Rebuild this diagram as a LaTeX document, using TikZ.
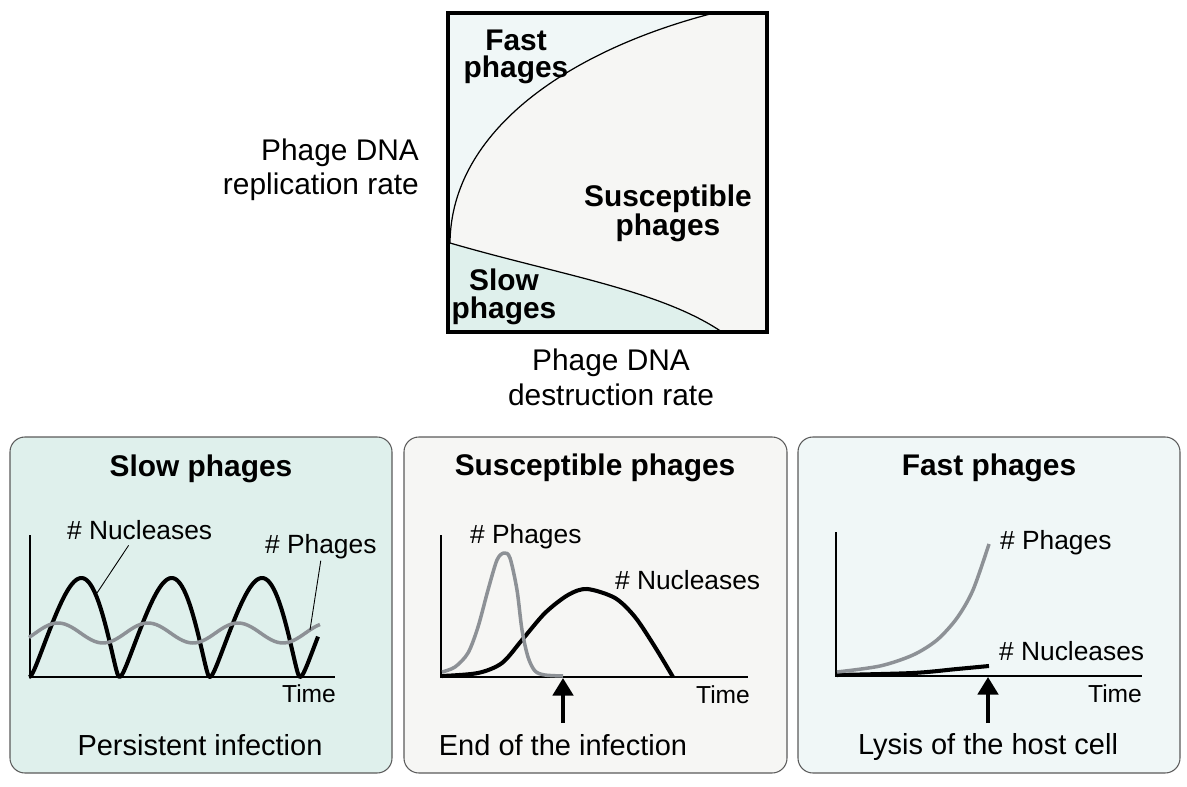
\documentclass[tikz,border=0pt]{standalone}
\usepackage{fontspec}
\setmainfont{Liberation Sans}
\usetikzlibrary{arrows.meta, positioning}
\definecolor{slowfill}{HTML}{DFF0EC}
\definecolor{suscfill}{HTML}{F6F6F4}
\definecolor{fastfill}{HTML}{F0F7F7}
\definecolor{phagegray}{HTML}{8D9196}
\definecolor{panelline}{HTML}{5A5A5A}
\tikzset{
  panelbox/.style={draw=panelline, line width=0.6pt, rounded corners=8.5pt},
  regionedge/.style={line width=0.7pt, black},
  axisline/.style={line width=0.8pt, black},
  nucline/.style={line width=2.3pt, black, line join=round},
  phageline/.style={line width=2pt, phagegray, line join=round},
  leaderline/.style={line width=0.5pt, black},
  eventarrow/.style={-{Triangle[length=10pt, width=11.5pt]}, line width=2.3pt, black},
  paneltitle/.style={font=\fontsize{17}{20}\selectfont\bfseries, inner sep=1pt},
  regionlabel/.style={font=\fontsize{17}{15.4}\selectfont\bfseries, align=center, inner sep=1pt},
  axislabel/.style={font=\fontsize{17}{19.5}\selectfont, inner sep=1pt},
  curvelabel/.style={font=\fontsize{15}{18}\selectfont, inner sep=1pt},
  timelabel/.style={font=\fontsize{14}{17}\selectfont, inner sep=1pt},
  captiontext/.style={font=\fontsize{16.5}{20}\selectfont, inner sep=1pt},
}

\begin{document}
\begin{tikzpicture}[x=0.02cm, y=-0.02cm]
  \useasboundingbox (0,0) rectangle (1187,787);

  % phase diagram
  \coordinate (sqNW) at (448,13);
  \coordinate (sqSW) at (448,332);
  \coordinate (sqSE) at (767,332);
  \coordinate (split) at (450,243);
  \coordinate (fastend) at (714,13);
  \coordinate (slowend) at (722,332);
  \fill[suscfill] (sqNW) rectangle (sqSE);
  \fill[fastfill] (split) .. controls (451,130) and (570,50) .. (fastend) -- (sqNW) -- cycle;
  \fill[slowfill] (split) .. controls (560,275) and (660,290) .. (slowend) -- (sqSW) -- cycle;
  \draw[regionedge] (split) .. controls (451,130) and (570,50) .. (fastend);
  \draw[regionedge] (split) .. controls (560,275) and (660,290) .. (slowend);
  \draw[line width=2.5pt] (sqNW) rectangle (sqSE);

  \node[regionlabel, anchor=base] (fastlab) at (516,78) {Fast\\phages};
  \node[regionlabel, anchor=base] (susclab) at (668,236) {Susceptible\\phages};
  \node[regionlabel, anchor=base] (slowlab) at (504,318) {Slow\\phages};
  \node[axislabel, align=right, anchor=base east] (replab) at (421,195) {Phage DNA\\replication rate};
  \node[axislabel, align=center, anchor=base] (destlab) at (611,405) {Phage DNA\\destruction rate};

  % panels
  \draw[panelbox, fill=slowfill] (10,437) rectangle (392,773);
  \draw[panelbox, fill=suscfill] (404,437) rectangle (787,773);
  \draw[panelbox, fill=fastfill] (798,437) rectangle (1180,773);

  % slow phages
  \node[paneltitle, anchor=base] (titleA) at (201,476) {Slow phages};
  \coordinate (originA) at (30,677);
  \draw[axisline] (30,535) -- (originA) -- (335,677);
  \draw[nucline] plot[domain=29:318, samples=240]
    (\x, {677-99*(sqrt((sin(1.99336*(\x-29)-14.94*abs(sin(1.99336*(\x-29)))))^2+0.01)-0.1)/0.905});
  \draw[phageline] plot[domain=29:320, samples=90, smooth] (\x, {633-10*sin(4*(\x-35.5))});
  \node[curvelabel, anchor=base west] (nuclabA) at (65,539) {\# Nucleases};
  \node[curvelabel, anchor=base west] (phagelabA) at (263,553) {\# Phages};
  \coordinate (nucptA) at (97,593);
  \coordinate (phageptA) at (310,630);
  \draw[leaderline] ([shift={(-11,4)}]nuclabA.south) -- (nucptA);
  \draw[leaderline] (phagelabA.south) -- (phageptA);
  \node[timelabel, anchor=east] (timeA) at (338,694) {Time};
  \node[captiontext, anchor=base] (capA) at (200,755) {Persistent infection};

  % susceptible phages
  \node[paneltitle, anchor=base] (titleB) at (595,475) {Susceptible phages};
  \coordinate (originB) at (441,677);
  \draw[axisline] (441,535) -- (originB) -- (748,677);
  \draw[nucline] plot[smooth] coordinates {(442,676) (478,673) (502,663) (522,640) (545,613)
    (568,595) (587,589) (615,598) (635,617) (655,647) (673,677)};
  \draw[phageline] plot[smooth] coordinates {(442,672) (455,667) (468,653) (478,627) (488,590)
    (497,560) (504,553) (510,558) (517,590) (522,630) (528,657) (535,671) (545,675) (563,676)};
  \node[curvelabel, anchor=base west] (phagelabB) at (468,543) {\# Phages};
  \node[curvelabel, anchor=base west] (nuclabB) at (613,589) {\# Nucleases};
  \node[timelabel, anchor=east] (timeB) at (752,695) {Time};
  \coordinate (endtail) at (563,723);
  \coordinate (endtip) at (563,678);
  \draw[eventarrow] (endtail) -- (endtip);
  \node[captiontext, anchor=base] (capB) at (563,755) {End of the infection};

  % fast phages
  \node[paneltitle, anchor=base] (titleC) at (989,475) {Fast phages};
  \coordinate (originC) at (836,676);
  \draw[axisline] (836,532) -- (originC) -- (1142,676);
  \draw[nucline] plot[smooth] coordinates {(837,675) (913,673) (957,669) (989,666)};
  \draw[phageline] plot[smooth] coordinates {(837,672) (880,666) (913,655) (937,640)
    (957,618) (973,590) (989,544)};
  \node[curvelabel, anchor=base west] (phagelabC) at (998,549) {\# Phages};
  \node[curvelabel, anchor=base west] (nuclabC) at (997,660) {\# Nucleases};
  \node[timelabel, anchor=east] (timeC) at (1144,694) {Time};
  \coordinate (lysistail) at (988,723);
  \coordinate (lysistip) at (988,677);
  \draw[eventarrow] (lysistail) -- (lysistip);
  \node[captiontext, anchor=base] (capC) at (988,754) {Lysis of the host cell};
\end{tikzpicture}
\end{document}
